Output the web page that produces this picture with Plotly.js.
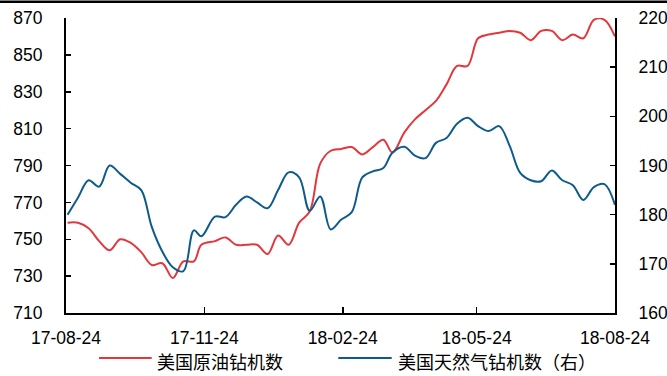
<!DOCTYPE html>
<html>
<head>
<meta charset="utf-8">
<script src="https://cdn.plot.ly/plotly-3.0.1.min.js"></script>
<style>
html,body{margin:0;padding:0;background:#fff;}
#chart{width:667px;height:376px;}
</style>
</head>
<body>
<div id="chart"></div>
<script>
// Weekly dates
const dates = [
  '2017-08-25','2017-09-01','2017-09-08','2017-09-15','2017-09-22','2017-09-29',
  '2017-10-06','2017-10-13','2017-10-20','2017-10-27','2017-11-03','2017-11-10',
  '2017-11-17','2017-11-22','2017-12-01','2017-12-08','2017-12-15','2017-12-22',
  '2017-12-29','2018-01-05','2018-01-12','2018-01-19','2018-01-26','2018-02-02',
  '2018-02-09','2018-02-16','2018-02-23','2018-03-02','2018-03-09','2018-03-16',
  '2018-03-23','2018-03-29','2018-04-06','2018-04-13','2018-04-20','2018-04-27',
  '2018-05-04','2018-05-11','2018-05-18','2018-05-25','2018-06-01','2018-06-08',
  '2018-06-15','2018-06-22','2018-06-29','2018-07-06','2018-07-13','2018-07-20',
  '2018-07-27','2018-08-03','2018-08-10','2018-08-17','2018-08-24'
];
// US oil rig count (left axis)
const oilRigs = [
  759,759,756,749,744,750,
  748,743,736,737,729,738,
  738,747,749,751,747,747,
  747,742,752,747,759,765,
  791,798,799,800,796,800,
  804,797,808,815,820,825,
  834,844,844,859,861,862,
  863,862,858,863,863,858,
  861,859,869,869,860
];
// US natural gas rig count (right axis)
const gasRigs = [
  180,183.5,187,185.7,190,188.3,
  186.5,185,177.5,172.5,169.3,168.5,
  176.8,175.6,179.6,179.5,182,183.7,
  182.5,181.3,185,188.6,187.6,180.8,
  183.7,177,179,180.5,187.6,188.8,
  189.5,192.6,193.8,192,191.5,194.6,
  195.6,198.5,199.7,198,197,198,
  194,188.5,187,186.8,189,187,
  186,183,185.6,186.2,182
];
const tickDates = ['2017-08-24','2017-11-24','2018-02-24','2018-05-24','2018-08-24'];
const tickLabels = ['17-08-24','17-11-24','18-02-24','18-05-24','18-08-24'];
const seriesNames = ['美国原油钻机数','美国天然气钻机数（右）'];

const RED = '#e2383c';
const BLUE = '#0d5b8d';
const tickFont = {family:'"Liberation Sans", Arial, sans-serif', size:17.5, color:'#000'};
const cjkFont = {family:'"Noto Sans CJK SC", "Liberation Sans", sans-serif', size:18, color:'#000'};

const traces = [
  {x:dates, y:oilRigs, name:seriesNames[0], type:'scatter', mode:'lines',
   line:{color:RED, width:2, shape:'spline', smoothing:1}, yaxis:'y'},
  {x:dates, y:gasRigs, name:seriesNames[1], type:'scatter', mode:'lines',
   line:{color:BLUE, width:2, shape:'spline', smoothing:1}, yaxis:'y2'}
];

// pixel->paper helpers for decoration placement
const L=66, R=52, T=18, B=63, W=667, H=376;
const PW=W-L-R, PH=H-T-B;
const px = v => (v-L)/PW;
const py = v => (H-B-v)/PH;

const layout = {
  width:W, height:H,
  margin:{l:L, r:R, t:T, b:B, pad:0},
  paper_bgcolor:'#fff', plot_bgcolor:'#fff',
  showlegend:false,
  xaxis:{
    type:'date',
    range:['2017-08-23 23:00','2018-08-24 01:00'],
    tickmode:'array', tickvals:tickDates, ticktext:tickLabels,
    ticks:'inside', ticklen:6, tickwidth:1.5, tickcolor:'#000',
    showline:true, linecolor:'#000', linewidth:2,
    showgrid:false, zeroline:false,
    tickfont:tickFont, ticklabelstandoff:8
  },
  yaxis:{
    range:[710,870], dtick:20, tick0:710,
    ticks:'inside', ticklen:5, tickwidth:1.5, tickcolor:'#000',
    showline:true, linecolor:'#000', linewidth:2,
    showgrid:false, zeroline:false,
    tickfont:tickFont, ticklabelstandoff:18
  },
  yaxis2:{
    range:[160,220], dtick:10, tick0:160,
    overlaying:'y', side:'right',
    ticks:'inside', ticklen:5, tickwidth:1.5, tickcolor:'#000',
    showline:true, linecolor:'#000', linewidth:2,
    showgrid:false, zeroline:false,
    tickfont:tickFont, ticklabelstandoff:18
  },
  shapes:[
    {type:'line', xref:'paper', yref:'paper', x0:px(0), x1:px(W), y0:py(1.7), y1:py(1.7),
     line:{color:'#000', width:2.5}},
    {type:'line', xref:'paper', yref:'paper', x0:px(99), x1:px(151.7), y0:py(358), y1:py(358),
     line:{color:RED, width:2}},
    {type:'line', xref:'paper', yref:'paper', x0:px(338.3), x1:px(391.7), y0:py(358), y1:py(358),
     line:{color:BLUE, width:2}}
  ],
  annotations:[
    {xref:'paper', yref:'paper', x:px(156), y:py(361), xanchor:'left', yanchor:'middle',
     text:seriesNames[0], showarrow:false, font:cjkFont, borderpad:0},
    {xref:'paper', yref:'paper', x:px(397), y:py(361), xanchor:'left', yanchor:'middle',
     text:seriesNames[1], showarrow:false, font:cjkFont, borderpad:0}
  ]
};

Plotly.newPlot('chart', traces, layout, {staticPlot:true, displayModeBar:false});
</script>
</body>
</html>
